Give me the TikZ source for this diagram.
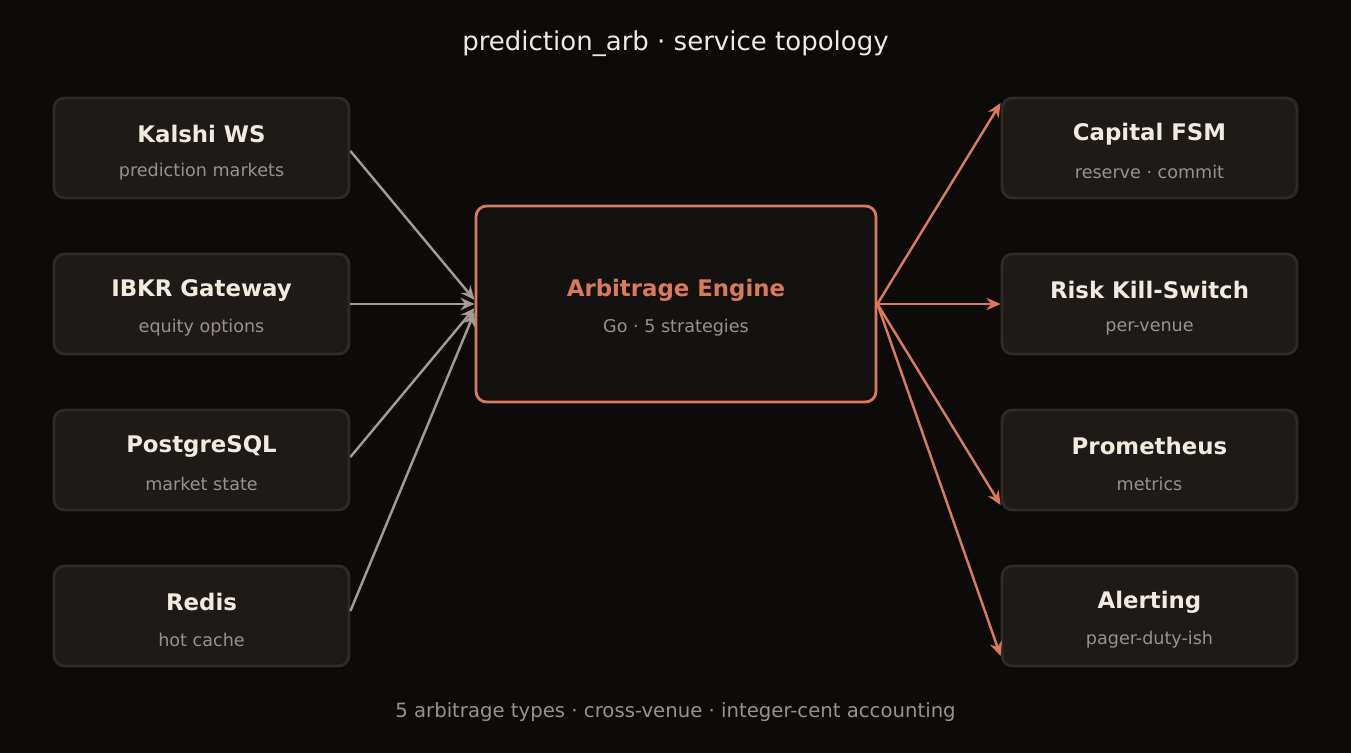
\documentclass[tikz,border=0pt]{standalone}
\usepackage{fontspec}
\setmainfont{DejaVu Sans}
\usetikzlibrary{arrows.meta}
\definecolor{bgc}{HTML}{0C0B0A}
\definecolor{boxc}{HTML}{1E1A18}
\definecolor{edgec}{HTML}{2E2A27}
\definecolor{txtc}{HTML}{F2EAE0}
\definecolor{subc}{HTML}{9A918A}
\definecolor{orc}{HTML}{D97B5A}
\definecolor{grc}{HTML}{A39A92}
\definecolor{corec}{HTML}{141211}
\tikzset{
	svc/.style={draw=edgec, fill=boxc, line width=0.8pt, rounded corners=3pt, minimum width=2.95cm, minimum height=1cm},
	core/.style={draw=orc, fill=corec, line width=0.8pt, rounded corners=3pt, minimum width=4cm, minimum height=1.96cm},
	svcname/.style={text=txtc, font=\fontsize{6.5}{7}\selectfont\bfseries},
	svcsub/.style={text=subc, font=\fontsize{5}{6}\selectfont},
	inflow/.style={draw=grc, line width=0.7pt, -{Stealth[length=4pt,width=3.5pt]}},
	outflow/.style={draw=orc, line width=0.7pt, -{Stealth[length=4pt,width=3.5pt]}}
}
\begin{document}
\begin{tikzpicture}
	\fill[bgc] (0,0) rectangle (13.51,7.53);
	\useasboundingbox (0,0) rectangle (13.51,7.53);

	\node[text=txtc, font=\fontsize{7.4}{8}\selectfont] (title) at (6.755,7.09) {prediction\_arb · service topology};
	\node[text=subc, font=\fontsize{5.6}{6}\selectfont] (foot) at (6.755,0.41) {5 arbitrage types · cross-venue · integer-cent accounting};

	% sources
	\node[svc] (kalshi) at (2.015,6.05) {};
	\node[svc] (ibkr) at (2.015,4.49) {};
	\node[svc] (pg) at (2.015,2.93) {};
	\node[svc] (redis) at (2.015,1.37) {};
	% sinks
	\node[svc] (cap) at (11.495,6.05) {};
	\node[svc] (risk) at (11.495,4.49) {};
	\node[svc] (prom) at (11.495,2.93) {};
	\node[svc] (alert) at (11.495,1.37) {};
	% engine
	\node[core] (engine) at (6.76,4.49) {};

	\foreach \b/\n/\s in {kalshi/Kalshi WS/prediction markets, ibkr/IBKR Gateway/equity options,
		pg/PostgreSQL/market state, redis/Redis/hot cache, cap/Capital FSM/reserve · commit,
		risk/Risk Kill-Switch/per-venue, prom/Prometheus/metrics, alert/Alerting/pager-duty-ish}{
		\node[svcname] (\b-n) at ([yshift=0.14cm]\b.center) {\n};
		\node[svcsub] (\b-s) at ([yshift=-0.24cm]\b.center) {\s};
	}
	\node[svcname, text=orc] (engine-n) at ([yshift=0.14cm]engine.center) {Arbitrage Engine};
	\node[svcsub] (engine-s) at ([yshift=-0.24cm]engine.center) {Go · 5 strategies};

	\draw[inflow] (kalshi.east |- 0,6.02) -- ([yshift=0.04cm]engine.west);
	\draw[inflow] (ibkr.east) -- (engine.west);
	\draw[inflow] (pg.east |- 0,2.96) -- ([yshift=-0.04cm]engine.west);
	\draw[inflow] (redis.east |- 0,1.42) -- ([yshift=-0.08cm]engine.west);

	\draw[outflow] (engine.east) -- ([yshift=0.45cm]cap.west);
	\draw[outflow] (engine.east) -- (risk.west);
	\draw[outflow] (engine.east) -- ([yshift=-0.45cm]prom.west);
	\draw[outflow] (engine.east) -- ([yshift=-0.4cm]alert.west);
\end{tikzpicture}
\end{document}
